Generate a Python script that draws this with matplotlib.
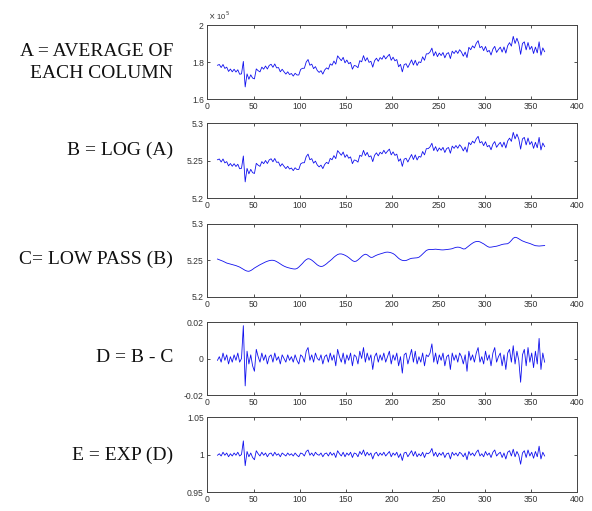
import numpy as np
import matplotlib
matplotlib.use('Agg')
from matplotlib import pyplot as plt

# dias (de 2 em 2) de 11 a 365
days = np.arange(11, 366, 2)

# C = passa-baixa de B
low_pass = [
    5.2520, 5.2510, 5.2500, 5.2490, 5.2478, 5.2465, 5.2458, 5.2450, 5.2443, 5.2437,
    5.2430, 5.2420, 5.2410, 5.2395, 5.2380, 5.2365, 5.2355, 5.2352, 5.2362, 5.2378,
    5.2397, 5.2412, 5.2428, 5.2442, 5.2455, 5.2468, 5.2480, 5.2490, 5.2498, 5.2503,
    5.2503, 5.2497, 5.2485, 5.2470, 5.2453, 5.2437, 5.2423, 5.2412, 5.2403, 5.2396,
    5.2390, 5.2385, 5.2383, 5.2390, 5.2410, 5.2435, 5.2460, 5.2490, 5.2512, 5.2525,
    5.2520, 5.2505, 5.2485, 5.2462, 5.2440, 5.2425, 5.2418, 5.2422, 5.2437, 5.2455,
    5.2478, 5.2498, 5.2520, 5.2545, 5.2565, 5.2582, 5.2590, 5.2590, 5.2583, 5.2572,
    5.2558, 5.2540, 5.2518, 5.2498, 5.2487, 5.2490, 5.2508, 5.2530, 5.2555, 5.2575,
    5.2586, 5.2578, 5.2558, 5.2542, 5.2545, 5.2560, 5.2572, 5.2582, 5.2590, 5.2598,
    5.2606, 5.2613, 5.2615, 5.2612, 5.2605, 5.2595, 5.2578, 5.2555, 5.2530, 5.2512,
    5.2502, 5.2498, 5.2500, 5.2510, 5.2522, 5.2530, 5.2533, 5.2535, 5.2537, 5.2545,
    5.2565, 5.2590, 5.2615, 5.2638, 5.2648, 5.2652, 5.2650, 5.2652, 5.2655, 5.2652,
    5.2648, 5.2646, 5.2645, 5.2647, 5.2650, 5.2653, 5.2657, 5.2662, 5.2672, 5.2680,
    5.2683, 5.2680, 5.2670, 5.2658, 5.2660, 5.2680, 5.2700, 5.2720, 5.2738, 5.2752,
    5.2760, 5.2762, 5.2755, 5.2742, 5.2728, 5.2710, 5.2693, 5.2682, 5.2683, 5.2688,
    5.2692, 5.2696, 5.2703, 5.2712, 5.2720, 5.2725, 5.2727, 5.2730, 5.2748, 5.2775,
    5.2805, 5.2818, 5.2812, 5.2798, 5.2782, 5.2768, 5.2758, 5.2748, 5.2740, 5.2733,
    5.2722, 5.2712, 5.2703, 5.2700, 5.2698, 5.2700, 5.2703, 5.2705,
]

# D = B - C, em milesimos
resid_milli = [
    -1, 1, -2, 3, -1, 2, -3, 1, -2, 2,
    -1, 3, -2, 0, 18, -15, 4, -3, 2, -4,
    -7, 5, 1, -2, 3, -1, 2, -3, 1, 2,
    -2, 3, -1, 1, -3, 2, 0, -2, 2, -1,
    1, -2, 2, -1, -3, 2, 1, -2, 4, 6,
    -1, 2, -2, 3, 0, -1, 2, -3, 1, 2,
    -2, 3, -1, 2, -4, 5, 1, -2, 3, -3,
    2, -1, 3, -4, 2, 1, -3, 4, 0, 6,
    -2, 3, -1, 2, -6, 1, 3, -2, 2, -1,
    3, -2, 1, 4, -3, 2, -1, 3, -4, 1,
    -8, 2, 3, -3, 1, 5, -2, 4, -3, 1,
    -2, 3, -4, 2, 1, 3, 8, -2, 3, -3,
    2, -1, 3, -4, 1, 2, -6, 3, -1, 2,
    -2, 3, 1, -3, 2, -7, 4, -1, 2, -2,
    3, 6, -2, 1, -3, 4, -1, 2, -4, 3,
    6, -2, 1, 3, -4, 2, -6, 3, 5, -2,
    7, -3, 4, -1, -13, 2, 5, -4, 6, -2,
    3, -5, 4, -3, 11, -6, 3, -2,
]

C = np.array(low_pass)
D = np.array(resid_milli) / 1000.0
B = C + D              # B = LOG(A)
A = 10.0 ** B / 1e5    # em unidades de 10^5
E = np.exp(D)

labels = [['A = AVERAGE OF', 'EACH COLUMN'], ['B = LOG (A)'], ['C= LOW PASS (B)'],
          ['D = B - C'], ['E = EXP (D)']]
series = [A, B, C, D, E]
ylims = [(1.6, 2.0), (5.2, 5.3), (5.2, 5.3), (-0.02, 0.02), (0.95, 1.05)]
yticks = [[1.6, 1.8, 2.0], [5.2, 5.25, 5.3], [5.2, 5.25, 5.3], [-0.02, 0, 0.02], [0.95, 1, 1.05]]
yticklabels = [['1.6', '1.8', '2'], ['5.2', '5.25', '5.3'], ['5.2', '5.25', '5.3'],
               ['-0.02', '0', '0.02'], ['0.95', '1', '1.05']]
xticks = [0, 50, 100, 150, 200, 250, 300, 350, 400]

W, H = 592.0, 511.0
fig = plt.figure(figsize=(W / 100, H / 100), dpi=100)

tops = [25, 123, 224, 322, 417]
bots = [99, 198, 297, 395, 492]
label_y = [[51, 74], [150], [259], [358], [455]]
x0, x1 = 207.3, 577.0

for i in range(5):
    ax = fig.add_axes([x0 / W, 1 - bots[i] / H, (x1 - x0) / W, (bots[i] - tops[i]) / H])
    ax.plot(days, series[i], color='#1010ee', lw=0.6)
    ax.set_xlim(0, 400)
    ax.set_ylim(*ylims[i])
    ax.set_xticks(xticks)
    ax.set_xticklabels([str(t) for t in xticks])
    ax.set_yticks(yticks[i])
    ax.set_yticklabels(yticklabels[i])
    ax.tick_params(direction='in', length=2.5, width=0.6, top=True, right=True,
                   labelsize=6.2, labelcolor='#333333', color='#333333', pad=2.5)
    for lab in ax.get_xticklabels() + ax.get_yticklabels():
        lab.set_family('Liberation Sans')
    for sp in ax.spines.values():
        sp.set_color('#444444')
        sp.set_linewidth(0.7)
    for txt, yy in zip(labels[i], label_y[i]):
        fig.text(173 / W, 1 - yy / H, txt, ha='right', va='center',
                 family='Liberation Serif', fontsize=14, color='#111111')

fig.text(208 / W, 1 - 16 / H, r'$\times$ 10$^5$', ha='left', va='center',
         family='Liberation Sans', fontsize=5.5, color='#333333')

fig.savefig('out.png', dpi=100)
